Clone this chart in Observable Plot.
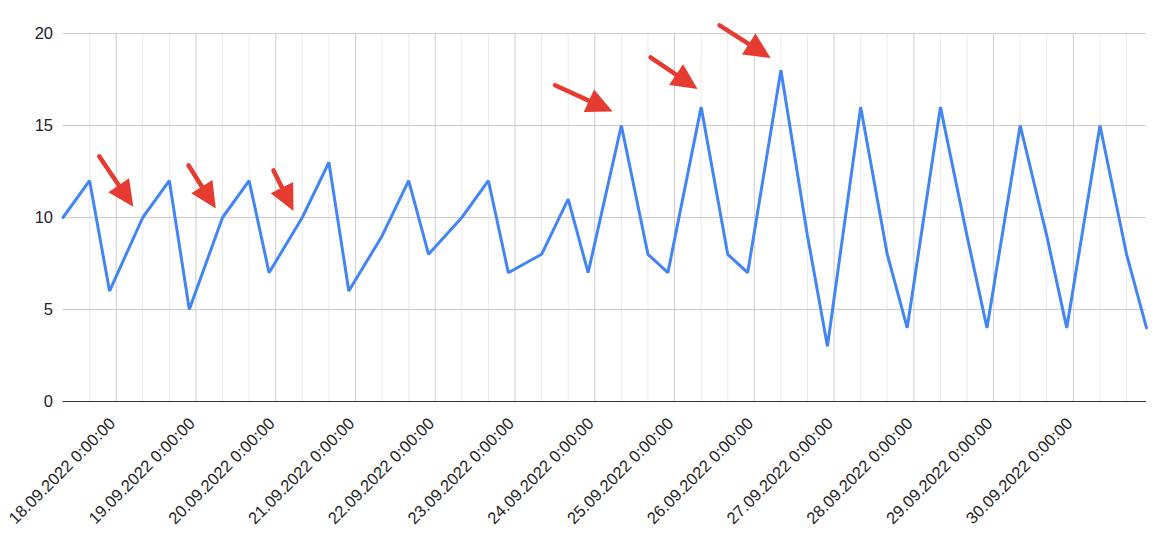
<!DOCTYPE html>
<html><head><meta charset="utf-8">
<script src="https://cdn.jsdelivr.net/npm/d3@7"></script>
<script src="https://cdn.jsdelivr.net/npm/@observablehq/plot@0.6"></script>
<style>body{margin:0;background:#fff;font-family:"Liberation Sans",Arial,sans-serif}</style>
</head><body><div id="chart"></div>
<script>
const times = [
 "2022-09-17T08:00Z","2022-09-17T16:00Z","2022-09-17T22:00Z",
 "2022-09-18T08:00Z","2022-09-18T16:00Z","2022-09-18T22:00Z",
 "2022-09-19T08:00Z","2022-09-19T16:00Z","2022-09-19T22:00Z",
 "2022-09-20T08:00Z","2022-09-20T16:00Z","2022-09-20T22:00Z",
 "2022-09-21T08:00Z","2022-09-21T16:00Z","2022-09-21T22:00Z",
 "2022-09-22T08:00Z","2022-09-22T16:00Z","2022-09-22T22:00Z",
 "2022-09-23T08:00Z","2022-09-23T16:00Z","2022-09-23T22:00Z",
 "2022-09-24T08:00Z","2022-09-24T16:00Z","2022-09-24T22:00Z",
 "2022-09-25T08:00Z","2022-09-25T16:00Z","2022-09-25T22:00Z",
 "2022-09-26T08:00Z","2022-09-26T16:00Z","2022-09-26T22:00Z",
 "2022-09-27T08:00Z","2022-09-27T16:00Z","2022-09-27T22:00Z",
 "2022-09-28T08:00Z","2022-09-28T16:00Z","2022-09-28T22:00Z",
 "2022-09-29T08:00Z","2022-09-29T16:00Z","2022-09-29T22:00Z",
 "2022-09-30T08:00Z","2022-09-30T16:00Z","2022-09-30T22:00Z"
];
const values = [
 10,12,6, 10,12,5, 10,12,7, 10,13,6, 9,12,8, 10,12,7, 8,11,7,
 15,8,7, 16,8,7, 18,9,3, 16,8,4, 16,9,4, 15,9,4, 15,8,4
];
const tickDates = ["2022-09-18","2022-09-19","2022-09-20","2022-09-21","2022-09-22","2022-09-23","2022-09-24",
 "2022-09-25","2022-09-26","2022-09-27","2022-09-28","2022-09-29","2022-09-30"];
const tickLabels = ["18.09.2022 0:00:00","19.09.2022 0:00:00","20.09.2022 0:00:00","21.09.2022 0:00:00",
 "22.09.2022 0:00:00","23.09.2022 0:00:00","24.09.2022 0:00:00","25.09.2022 0:00:00","26.09.2022 0:00:00",
 "27.09.2022 0:00:00","28.09.2022 0:00:00","29.09.2022 0:00:00","30.09.2022 0:00:00"];
const yTicks = [0,5,10,15,20];
// annotation arrows (tail -> tip), in data coordinates
const arrowX1 = ["2022-09-17T19:02Z","2022-09-18T21:54Z","2022-09-19T23:29Z","2022-09-23T12:12Z","2022-09-24T16:56Z","2022-09-25T13:42Z"];
const arrowY1 = [13.30,12.81,12.53,17.16,18.68,20.42];
const arrowX2 = ["2022-09-18T05:18Z","2022-09-19T06:07Z","2022-09-20T05:30Z","2022-09-24T05:30Z","2022-09-25T07:05Z","2022-09-26T05:03Z"];
const arrowY2 = [10.56,10.46,10.33,15.73,16.95,18.64];

const data = times.map((t,i)=>({date:new Date(t), value:values[i]}));
const majors = tickDates.map((d,i)=>({date:new Date(d+"T00:00Z"), label:tickLabels[i]}));
const xDomain = [new Date(times[0]), new Date(times[times.length-1])];
const minors = d3.utcHour.every(8).range(new Date(+xDomain[0]+1), xDomain[1]).filter(d=>d.getUTCHours()!==0);
const arrows = arrowX1.map((x,i)=>({x1:new Date(x), y1:arrowY1[i], x2:new Date(arrowX2[i]), y2:arrowY2[i]}));

const plot = Plot.plot({
  width:1163, height:539,
  marginLeft:62.5, marginRight:17, marginTop:33, marginBottom:138,
  style:{fontFamily:"'Liberation Sans', Arial, sans-serif", fontSize:"16px", color:"#222", background:"#fff", overflow:"visible"},
  x:{type:"utc", domain:xDomain, axis:null},
  y:{domain:[0,20], axis:null},
  marks:[
    Plot.ruleX(minors,{stroke:"#ebebeb", strokeWidth:1}),
    Plot.ruleX(majors,{x:"date", stroke:"#cccccc", strokeWidth:1}),
    Plot.ruleY(yTicks.filter(d=>d>0),{stroke:"#cccccc", strokeWidth:1}),
    Plot.text(yTicks,{y:d=>d, frameAnchor:"left", dx:-10, textAnchor:"end", fontSize:16.5, fill:"#222"}),
    Plot.text(majors,{x:"date", text:"label", frameAnchor:"bottom", rotate:-45, textAnchor:"end", lineAnchor:"bottom", dx:0, dy:23, fontSize:16.5, fill:"#222"}),
    Plot.ruleY([0],{stroke:"#333", strokeWidth:1.2}),
    Plot.line(data,{x:"date", y:"value", stroke:"#4285f4", strokeWidth:3, strokeLinejoin:"miter"})
  ]
});

// arrowheads + shafts positioned through Plot's scales
const sx = plot.scale("x"), sy = plot.scale("y");
const svg = d3.select(plot);
const g = svg.append("g").attr("fill","#e53b30").attr("stroke","#e53b30");
for (const a of arrows) {
  const x1 = sx.apply(a.x1), y1 = sy.apply(a.y1), x2 = sx.apply(a.x2), y2 = sy.apply(a.y2);
  const dx = x2-x1, dy = y2-y1, L = Math.hypot(dx,dy), ux = dx/L, uy = dy/L;
  const head = 26, half = 12.5;
  const bx = x2-ux*head, by = y2-uy*head;
  g.append("line").attr("x1",x1).attr("y1",y1).attr("x2",bx+ux*4).attr("y2",by+uy*4)
    .attr("stroke-width",4.5).attr("stroke-linecap","round");
  g.append("path").attr("stroke","none")
    .attr("d",`M${x2},${y2}L${bx-uy*half},${by+ux*half}L${bx+uy*half},${by-ux*half}Z`);
}
document.getElementById("chart").appendChild(plot);
</script>
</body></html>
